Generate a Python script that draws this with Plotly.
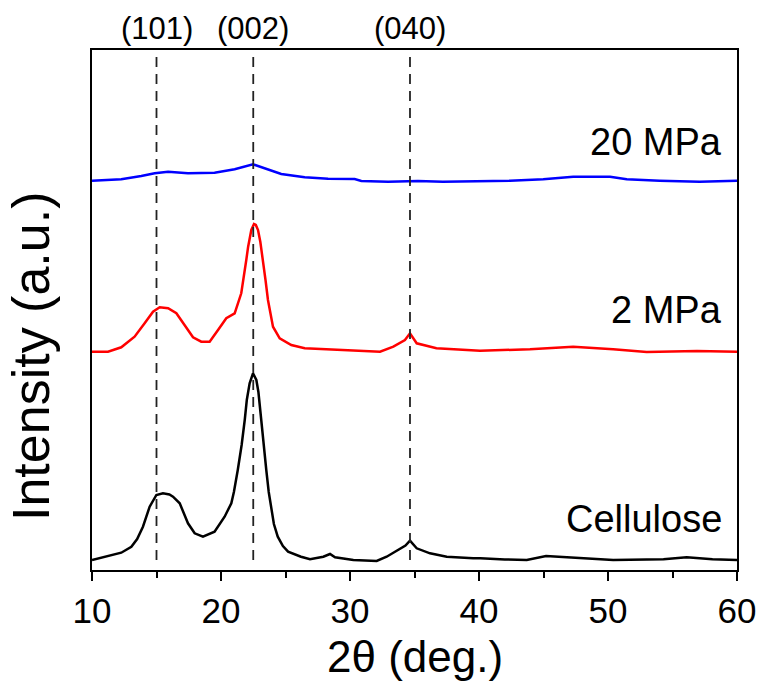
import plotly.graph_objects as go

# ---- data ----
cell_2theta = [10, 11.0, 12.27, 13.05, 13.5, 13.95, 14.47, 14.99, 15.5, 16.0, 16.28, 16.8, 17.1, 17.44, 17.96,
               18.6, 19.5, 20.28, 20.8, 21.0, 21.3, 21.6, 21.84, 22.0, 22.22, 22.48, 22.74, 22.9, 23.12,
               23.3, 23.51, 23.7, 23.9, 24.1, 24.4, 24.8, 25.2, 26.2, 26.9, 27.93, 28.45, 28.84, 30.26,
               32.07, 32.84, 33.4, 33.88, 34.3, 34.65, 35.17, 36.2, 37.5, 39.55, 40.1, 42.0, 43.7, 45.2,
               47.8, 50.4, 54.3, 56.1, 58.1, 60]
cell_int = [0, 3.5, 7.3, 13.3, 21, 33.3, 53.3, 65, 66.7, 65.5, 63.3, 56.7, 47, 36.7, 26.7,
            23.3, 28.3, 43.3, 56.7, 68, 90, 115, 140, 160, 176.7, 186.7, 180, 168, 140,
            115, 90, 68, 50, 36, 23.3, 14, 8.3, 3.3, 0.7, 3.3, 6, 2.7, 0,
            -1, 3.3, 7.5, 11.7, 14.5, 19.3, 11.7, 6.7, 3.3, 1.7, 1.7, 0.5, 0, 4,
            1.7, 0, 0.7, 2.7, 0.7, 0]

mpa2_2theta = [10, 11.24, 12.27, 13.3, 14.08, 14.73, 15.25, 15.9, 16.54, 17.18, 17.83, 18.47, 19.12,
               19.77, 20.41, 21.06, 21.57, 21.96, 22.1, 22.35, 22.56, 22.7, 22.87, 23.05, 23.26, 23.45,
               23.64, 23.85, 24.03, 24.55, 25.45, 26.49, 28.2, 30.26, 32.33, 33.36, 34.26, 34.65,
               35.17, 36.7, 40.08, 43.95, 47.3, 50.4, 53, 56.9, 60]
mpa2_int = [0.3, 0.3, 4.7, 15.3, 28.7, 40.3, 44.7, 43.7, 38.7, 27, 14.7, 10.3, 10.3,
            22, 33.7, 38.7, 58.7, 92, 105, 122, 128, 127, 122, 110, 92, 72,
            52, 36, 25.3, 13.7, 7, 3.7, 2.7, 1.3, 0.3, 5.3, 12, 18.7,
            8.7, 3.7, 1.3, 2.7, 5.3, 2.7, 0, 1, 0.3]

mpa20_2theta = [10, 12.27, 13.82, 14.86, 15.9, 17.44, 19.5, 21.06, 22.48, 23.38, 24.67, 26.49, 28.3,
                30.36, 30.88, 32.95, 35.27, 37.2, 42.4, 44.98, 47.3, 50.16, 51.45, 54, 57.1, 60]
mpa20_int = [1, 2.4, 5.7, 8.4, 10, 8.4, 9, 12.4, 17.4, 13.4, 7.7, 4.4, 3,
             2.6, 0.8, 0, 0.7, 0, 1, 2.4, 5, 5, 2.4, 1, 0, 1]

series_names = ["Cellulose", "2 MPa", "20 MPa"]
series_offsets = [10, 218, 388.3]
peak_positions = [15.0, 22.5, 34.65]
peak_labels = ["(101)", "(002)", "(040)"]

FONT = "Liberation Sans, Arial, sans-serif"

fig = go.Figure()
datasets = [(cell_2theta, cell_int, "#000000"),
            (mpa2_2theta, mpa2_int, "#ff0000"),
            (mpa20_2theta, mpa20_int, "#0000ff")]
for (xs, ys, col), name, off in zip(datasets, series_names, series_offsets):
    fig.add_trace(go.Scatter(x=xs, y=[v + off for v in ys], mode="lines", name=name,
                             line=dict(color=col, width=2.5), showlegend=False))

for px in peak_positions:
    fig.add_shape(type="line", x0=px, x1=px, y0=10, y1=520, xref="x", yref="y",
                  line=dict(color="#222222", width=1.8, dash="10px,7px"))

for px, lab in zip(peak_positions, peak_labels):
    fig.add_annotation(x=px, y=1.0, xref="x", yref="paper", text=lab, showarrow=False,
                       yanchor="middle", yshift=22, font=dict(size=31, color="#000", family=FONT))

label_y = [51, 260, 428]
for name, ly in zip(series_names, label_y):
    fig.add_annotation(x=59, y=ly, xref="x", yref="y", text=name, showarrow=False,
                       xanchor="right", yanchor="middle", font=dict(size=38, color="#000", family=FONT))

# axis titles as annotations for exact placement
fig.add_annotation(x=0.5, y=0, xref="paper", yref="paper", text="2θ (deg.)", showarrow=False,
                   xanchor="center", yanchor="middle", yshift=-86, font=dict(size=44, color="#000", family=FONT))
fig.add_annotation(x=0, y=0.5, xref="paper", yref="paper", text="Intensity (a.u.)", showarrow=False,
                   textangle=-90, xanchor="center", yanchor="middle", xshift=-61, yshift=-47,
                   font=dict(size=52, color="#000", family=FONT))

fig.update_layout(
    width=761, height=682,
    margin=dict(l=92, r=24, t=50, b=112, autoexpand=False),
    paper_bgcolor="white", plot_bgcolor="white",
    font=dict(family=FONT, color="#000"),
)
fig.update_xaxes(range=[10, 60], tickvals=[10, 20, 30, 40, 50, 60], ticks="outside", ticklen=9,
                 tickwidth=1.5, tickcolor="#000", showline=True, linecolor="#000", linewidth=1.5,
                 mirror=True, showgrid=False, zeroline=False, automargin=False,
                 minor=dict(tickvals=[15, 25, 35, 45, 55], ticks="outside", ticklen=6, tickwidth=1.5, tickcolor="#000"),
                 tickfont=dict(size=35, family=FONT))
fig.update_yaxes(range=[0, 520], showticklabels=False, ticks="", showline=True, linecolor="#000",
                 linewidth=1.5, mirror=True, showgrid=False, zeroline=False, automargin=False)

fig.write_html("out.html", config={"displayModeBar": False},
               post_script="document.body.style.margin='0px';document.body.style.overflow='hidden';")
